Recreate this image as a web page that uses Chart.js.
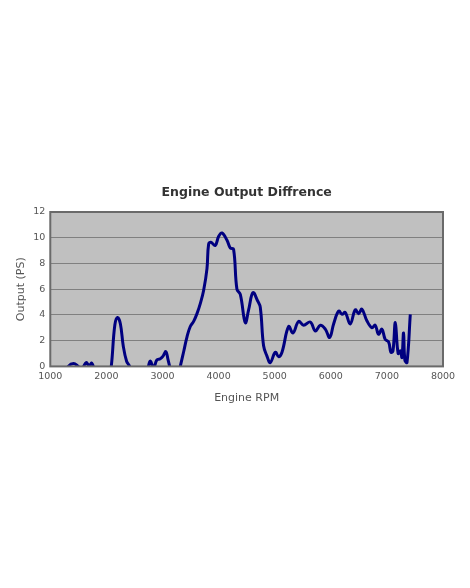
<!DOCTYPE html>
<html lang="en">
<head>
  <meta charset="UTF-8">
  <title>Engine Output Diffrence</title>
  <script src="https://cdn.jsdelivr.net/npm/chart.js"></script>
  <style>
    html, body { margin: 0; padding: 0; background: #fff; }
    .chart-box { position: absolute; left: 0; top: 178px; width: 470px; height: 232px; }
  </style>
</head>
<body>
  <div class="chart-box">
    <canvas id="outputChart"></canvas>
  </div>

  <script>
    // engine rpm / output difference (PS)
    const rpm = [
      1250, 1320, 1415, 1500, 1560, 1640, 1690, 1740, 1800,
      2000, 2087, 2150, 2200, 2250, 2300, 2360, 2414, 2480,
      2700, 2780, 2840, 2900, 2960, 3010, 3060, 3100, 3127, 3180,
      3260, 3317, 3380, 3437, 3495, 3555, 3615, 3675, 3733, 3793, 3822, 3862, 3940, 4000, 4060, 4150, 4210, 4267,
      4327, 4387, 4476, 4535, 4613, 4695, 4743, 4802, 4862, 4921, 5011, 5070, 5130,
      5248, 5326, 5426, 5515, 5635, 5724, 5813, 5902, 5980, 6050, 6140, 6200, 6257,
      6346, 6436, 6495, 6554, 6643, 6733, 6792, 6851, 6911, 6970, 7030, 7072, 7108,
      7150, 7200, 7240, 7268, 7297, 7320, 7358, 7417
    ];
    const outputPS = [
      -0.6, 0.0, 0.22, 0.0, -0.2, 0.3, 0.05, 0.25, -0.5,
      -2.5, 0.0, 3.2, 3.8, 3.3, 1.6, 0.4, 0.0, -1.0,
      -0.6, 0.4, -0.1, 0.5, 0.6, 0.8, 1.15, 0.5, 0.0, -1.2,
      -1.0, 0.0, 1.2, 2.3, 3.1, 3.5, 4.1, 4.9, 5.9, 7.6, 9.5, 9.65, 9.4, 10.1, 10.37, 9.8, 9.2, 9.1,
      6.0, 5.6, 3.4, 4.4, 5.73, 5.1, 4.6, 1.6, 0.8, 0.3, 1.1, 0.75, 1.1,
      3.1, 2.6, 3.5, 3.2, 3.45, 2.75, 3.2, 2.9, 2.25, 3.3, 4.3, 4.05, 4.2,
      3.3, 4.4, 4.1, 4.45, 3.55, 3.0, 3.2, 2.5, 2.9, 2.1, 1.9, 1.1, 1.2,
      3.4, 1.0, 1.2, 0.7, 2.6, 0.5, 0.3, 4.05
    ];
    const rpmTicks = [1000, 2000, 3000, 4000, 5000, 6000, 7000, 8000];
    const psTicks = [0, 2, 4, 6, 8, 10, 12];
    const chartTitle = 'Engine Output Diffrence';

    const fontFamily = '"DejaVu Sans", Verdana, sans-serif';

    // grey plot background, dark frame, and a title centred over the plot area
    const plotDecor = {
      id: 'plotDecor',
      beforeDraw(chart) {
        const { ctx, chartArea: a } = chart;
        ctx.save();
        ctx.fillStyle = '#c0c0c0';
        ctx.fillRect(a.left, a.top, a.right - a.left, a.bottom - a.top);
        ctx.restore();
      },
      afterDatasetsDraw(chart) {
        const { ctx, chartArea: a } = chart;
        ctx.save();
        ctx.strokeStyle = '#6a6a6a';
        ctx.lineWidth = 2;
        ctx.strokeRect(a.left, a.top, a.right - a.left, a.bottom - a.top);
        ctx.fillStyle = '#333';
        ctx.font = 'bold 12.5px ' + fontFamily;
        ctx.textAlign = 'center';
        ctx.textBaseline = 'middle';
        ctx.fillText(chartTitle, (a.left + a.right) / 2, 15);
        ctx.restore();
      }
    };

    new Chart(document.querySelector('#outputChart'), {
      type: 'line',
      data: {
        datasets: [{
          data: rpm.map((r, i) => ({ x: r, y: outputPS[i] })),
          borderColor: '#000080',
          borderWidth: 3,
          pointRadius: 0,
          tension: 0.4,
          fill: false,
          clip: 0,
        }],
      },
      options: {
        responsive: true,
        maintainAspectRatio: false,
        animation: false,
        layout: { padding: { left: 15, right: 27, top: 34, bottom: 5 } },
        plugins: {
          legend: { display: false },
          tooltip: { enabled: false },
          title: { display: false },
        },
        scales: {
          x: {
            type: 'linear',
            min: 1000,
            max: 8000,
            afterBuildTicks: axis => { axis.ticks = rpmTicks.map(v => ({ value: v })); },
            grid: { display: false, drawTicks: false },
            border: { display: false },
            ticks: {
              color: '#555',
              font: { family: fontFamily, size: 9.5 },
              padding: 4,
              maxRotation: 0,
              callback: v => String(v),
            },
            title: {
              display: true,
              text: 'Engine RPM',
              color: '#555',
              font: { family: fontFamily, size: 11 },
              padding: { top: 6, bottom: 0 },
            },
          },
          y: {
            min: 0,
            max: 12,
            afterBuildTicks: axis => { axis.ticks = psTicks.map(v => ({ value: v })); },
            grid: { color: '#808080', lineWidth: 1, drawTicks: false },
            border: { display: false },
            ticks: { color: '#555', font: { family: fontFamily, size: 9.5 }, padding: 5 },
            title: {
              display: true,
              text: 'Output (PS)',
              color: '#555',
              font: { family: fontFamily, size: 11 },
              padding: { top: 0, bottom: 0 },
            },
          },
        },
      },
      plugins: [plotDecor],
    });
  </script>
</body>
</html>
